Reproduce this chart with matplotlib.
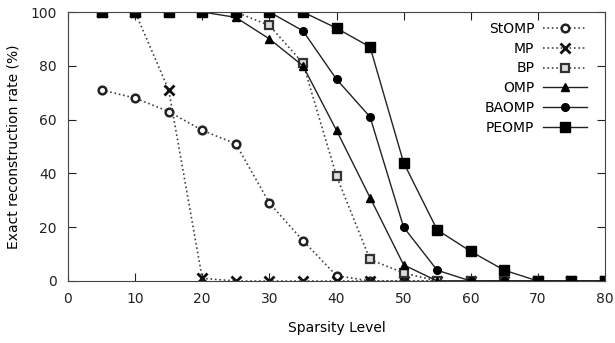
import matplotlib.pyplot as plt

sparsity = [5, 10, 15, 20, 25, 30, 35, 40, 45, 50, 55, 60, 65, 70, 75, 80]

stomp = [71, 68, 63, 56, 51, 29, 15, 2, 0, 0, 0, 0, 0, 0, 0, 0]
mp = [100, 100, 71, 1, 0, 0, 0, 0, 0, 0, 0, 0, 0, 0, 0, 0]
bp = [100, 100, 100, 100, 100, 95, 81, 39, 8, 3, 0, 0, 0, 0, 0, 0]
omp = [100, 100, 100, 100, 98, 90, 80, 56, 31, 6, 0, 0, 0, 0, 0, 0]
baomp = [100, 100, 100, 100, 100, 100, 93, 75, 61, 20, 4, 0, 0, 0, 0, 0]
peomp = [100, 100, 100, 100, 100, 100, 100, 94, 87, 44, 19, 11, 4, 0, 0, 0]

plt.rcParams['font.family'] = 'DejaVu Sans'

fig = plt.figure(figsize=(6.15, 3.43), dpi=100)
ax = fig.add_axes([68 / 615, 62 / 343, 537 / 615, 269 / 343])

# dotted series
ax.plot(sparsity, stomp, linestyle=":", color="#444444", linewidth=1.2,
        marker="o", markersize=5.5, markerfacecolor="white",
        markeredgecolor="#222222", markeredgewidth=1.8, label="StOMP")
ax.plot(sparsity, mp, linestyle=":", color="#444444", linewidth=1.2,
        marker="x", markersize=6.5, markeredgecolor="#111111",
        markeredgewidth=2, label="MP")
ax.plot(sparsity, bp, linestyle=":", color="#444444", linewidth=1.2,
        marker="s", markersize=6, markerfacecolor="#dddddd",
        markeredgecolor="#333333", markeredgewidth=1.6, label="BP")

# solid series
ax.plot(sparsity, omp, linestyle="-", color="#222222", linewidth=1,
        marker="^", markersize=5.5, markerfacecolor="black",
        markeredgecolor="black", label="OMP")
ax.plot(sparsity, baomp, linestyle="-", color="#222222", linewidth=1,
        marker="o", markersize=5.5, markerfacecolor="black",
        markeredgecolor="black", label="BAOMP")
ax.plot(sparsity, peomp, linestyle="-", color="#222222", linewidth=1,
        marker="s", markersize=6.5, markerfacecolor="black",
        markeredgecolor="black", label="PEOMP")

ax.set_xlim(0, 80)
ax.set_ylim(0, 100)
ax.set_xticks(range(0, 81, 10))
ax.set_yticks(range(0, 101, 20))
ax.tick_params(direction="in", top=True, right=True, length=6,
               labelsize=10, pad=8, colors="#222222")
for s in ax.spines.values():
    s.set_color("#444444")

ax.set_xlabel("Sparsity Level", fontsize=10, labelpad=11)
ax.set_ylabel("Exact reconstruction rate (%)", fontsize=10, labelpad=7)

ax.legend(loc="upper right", markerfirst=False, frameon=False,
          fontsize=10, handlelength=3.2, labelspacing=0.42,
          handletextpad=0.6, borderaxespad=0.3,
          bbox_to_anchor=(0.985, 1.0))

fig.savefig("out.png", dpi=100)
